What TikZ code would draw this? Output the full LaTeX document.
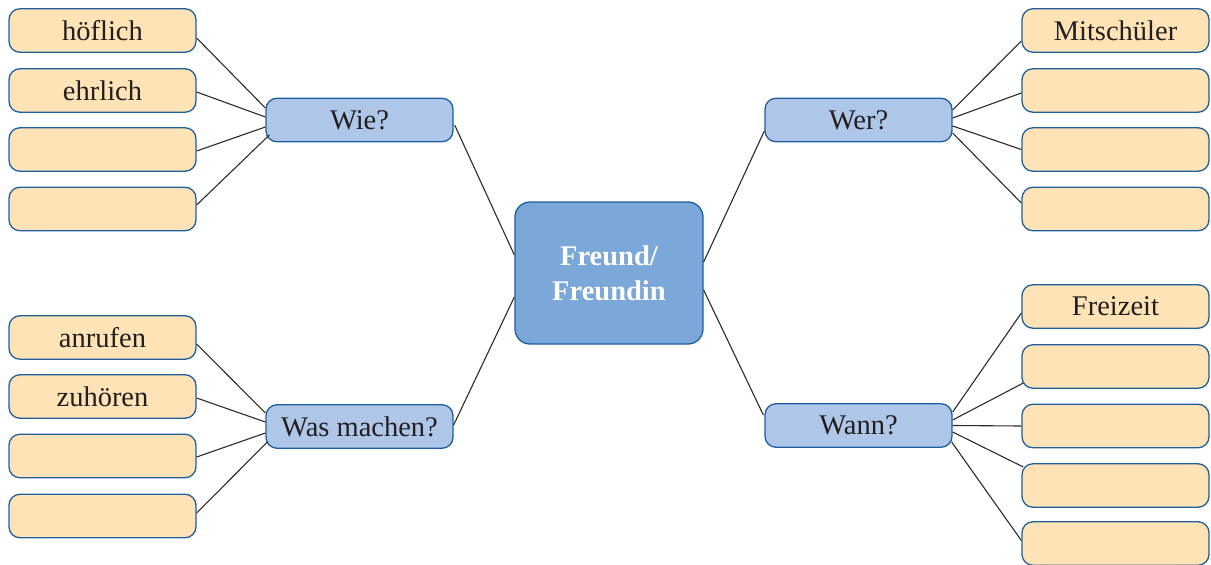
\documentclass[tikz,border=0pt]{standalone}
\usepackage{fontspec}
\setmainfont{Liberation Serif}
\definecolor{leaffill}{HTML}{FDE3B6}
\definecolor{midfill}{HTML}{AEC6E8}
\definecolor{centerfill}{HTML}{7BA7D9}
\definecolor{boxborder}{HTML}{1F5F9E}
\definecolor{textdark}{HTML}{231F20}
\definecolor{linecol}{HTML}{2B2B2B}
\begin{document}
\begin{tikzpicture}[x=1pt,y=1pt,
  leaf/.style={draw=boxborder, line width=1.3pt, fill=leaffill, rounded corners=11pt,
    minimum width=187pt, minimum height=43.5pt, inner sep=0pt, text=textdark,
    font=\fontsize{28.5}{33}\selectfont},
  mid/.style={leaf, fill=midfill},
  hub/.style={draw=boxborder, line width=1.3pt, fill=centerfill, rounded corners=15pt,
    minimum width=188pt, minimum height=142pt, inner sep=0pt, text=white,
    align=center, font=\fontsize{28.5}{35}\selectfont\bfseries},
  link/.style={draw=linecol, line width=1.1pt}]
\useasboundingbox (0,0) rectangle (1211,-565);
% centre
\node[hub] (c) at (609,-273) {Freund/\\Freundin};
% middle nodes
\node[mid] (wie) at (359.5,-120) {Wie?};
\node[mid] (was) at (359.5,-426.5) {Was machen?};
\node[mid] (wer) at (858.5,-120) {Wer?};
\node[mid] (wann) at (858.5,-425.5) {Wann?};
% left top leaves
\node[leaf] (a1) at (102.5,-30.5) {höflich};
\node[leaf] (a2) at (102.5,-90.5) {ehrlich};
\node[leaf] (a3) at (102.5,-149.5) {};
\node[leaf] (a4) at (102.5,-209) {};
% left bottom leaves
\node[leaf] (b1) at (102.5,-337.5) {anrufen};
\node[leaf] (b2) at (102.5,-396.5) {zuhören};
\node[leaf] (b3) at (102.5,-456) {};
\node[leaf] (b4) at (102.5,-516) {};
% right top leaves
\node[leaf] (r1) at (1115.5,-30.5) {Mitschüler};
\node[leaf] (r2) at (1115.5,-90.5) {};
\node[leaf] (r3) at (1115.5,-149.5) {};
\node[leaf] (r4) at (1115.5,-209) {};
% right bottom leaves
\node[leaf] (s1) at (1115.5,-306.5) {Freizeit};
\node[leaf] (s2) at (1115.5,-366.5) {};
\node[leaf] (s3) at (1115.5,-426) {};
\node[leaf] (s4) at (1115.5,-485.5) {};
\node[leaf] (s5) at (1115.5,-543.5) {};
% connectors centre -- middle
\draw[link] ([yshift=18]c.west) -- ([xshift=1,yshift=-5]wie.east);
\draw[link] ([yshift=-24]c.west) -- ([yshift=1.5]was.east);
\draw[link] ([yshift=11]c.east) -- ([yshift=-11]wer.west);
\draw[link] ([yshift=-17]c.east) -- ([xshift=-1,yshift=10.5]wann.west);
% Wie?
\draw[link] ([yshift=-7.5]a1.east) -- ([yshift=12]wie.west);
\draw[link] ([yshift=-1.5]a2.east) -- ([yshift=3]wie.west);
\draw[link] ([yshift=-1.5]a3.east) -- ([yshift=-7]wie.west);
\draw[link] ([yshift=4]a4.east) -- ([xshift=4,yshift=-15]wie.west);
% Was machen?
\draw[link] ([yshift=-6.5]b1.east) -- ([yshift=13.5]was.west);
\draw[link] ([yshift=-1.5]b2.east) -- ([yshift=4.5]was.west);
\draw[link] ([yshift=-1]b3.east) -- ([yshift=-6.5]was.west);
\draw[link] ([yshift=3]b4.east) -- ([xshift=2,yshift=-15.5]was.west);
% Wer?
\draw[link] ([yshift=10]wer.east) -- ([yshift=-10.5]r1.west);
\draw[link] ([yshift=2]wer.east) -- ([yshift=-2.5]r2.west);
\draw[link] ([yshift=-6]wer.east) -- (r3.west);
\draw[link] ([yshift=-13]wer.east) -- ([yshift=6]r4.west);
% Wann?
\draw[link] ([yshift=13.5]wann.east) -- ([yshift=-6.5]s1.west);
\draw[link] ([yshift=5.5]wann.east) -- ([xshift=2,yshift=-16.5]s2.west);
\draw[link] (wann.east) -- (s3.west);
\draw[link] ([yshift=-6.5]wann.east) -- ([xshift=2,yshift=18.5]s4.west);
\draw[link] ([xshift=-1,yshift=-16.5]wann.east) -- ([yshift=3]s5.west);
\end{tikzpicture}
\end{document}
